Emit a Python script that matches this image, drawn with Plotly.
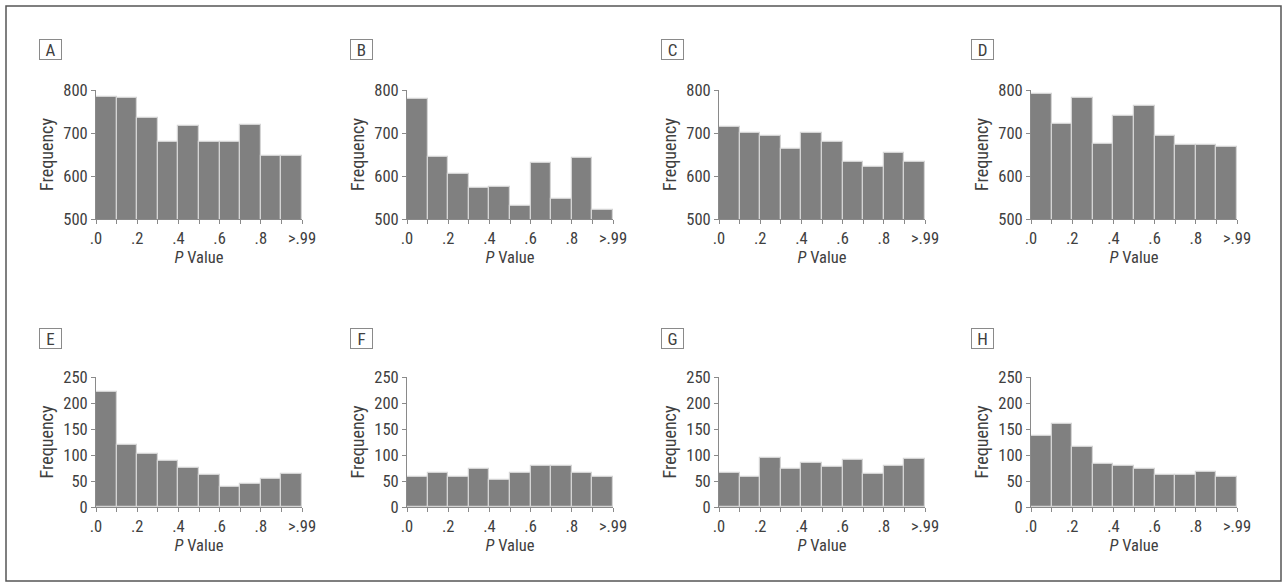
import plotly.graph_objects as go

W, H = 1286, 583

bin_centers = [0.05, 0.15, 0.25, 0.35, 0.45, 0.55, 0.65, 0.75, 0.85, 0.95]
tick_vals = [0.0, 0.1, 0.2, 0.3, 0.4, 0.5, 0.6, 0.7, 0.8, 0.9, 1.0]
tick_text = [".0", "", ".2", "", ".4", "", ".6", "", ".8", "", ">.99"]

panel_labels = ["A", "B", "C", "D", "E", "F", "G", "H"]

freq_A = [783, 781, 736, 678, 717, 679, 678, 719, 647, 647]
freq_B = [778, 644, 604, 573, 575, 531, 631, 546, 641, 522]
freq_C = [715, 700, 694, 662, 700, 678, 633, 620, 654, 633]
freq_D = [790, 721, 782, 675, 740, 763, 694, 671, 673, 668]
freq_E = [222, 120, 102, 89, 75, 61, 39, 44, 53, 64]
freq_F = [57, 65, 57, 73, 52, 65, 79, 79, 65, 57]
freq_G = [66, 58, 94, 73, 85, 77, 90, 64, 79, 93]
freq_H = [136, 160, 115, 82, 79, 73, 62, 62, 68, 58]

top_yticks = [500, 600, 700, 800]
bottom_yticks = [0, 50, 100, 150, 200, 250]

series = [freq_A, freq_B, freq_C, freq_D, freq_E, freq_F, freq_G, freq_H]

FONT = "Liberation Sans Narrow, Arial Narrow, Roboto Condensed, DejaVu Sans Condensed, sans-serif"
TXT = "#404040"
AX = "#8a8a8a"

# pixel layout
col_x = [(96, 302), (407, 613), (719, 925), (1031, 1237)]
row_y = [(90, 219), (377, 507)]
label_box_x = [50, 361, 672, 982]
label_box_y = [50, 338]

fig = go.Figure()
layout_axes = {}
annotations = []
for i, vals in enumerate(series):
    r, c = divmod(i, 4)
    n = i + 1
    xa = "x" if n == 1 else f"x{n}"
    ya = "y" if n == 1 else f"y{n}"
    fig.add_trace(go.Bar(
        x=bin_centers, y=vals, width=0.1,
        marker=dict(color="#808080", line=dict(color="#d4d4d4", width=1.2)),
        xaxis=xa, yaxis=ya, showlegend=False, hoverinfo="x+y",
    ))
    x0, x1 = col_x[c]
    y0, y1 = row_y[r]
    top = r == 0
    yt = top_yticks if top else bottom_yticks
    base = dict(showline=True, linecolor=AX, linewidth=1, ticks="outside",
                ticklen=4, tickcolor=AX, showgrid=False, zeroline=False,
                automargin=False,
                tickfont=dict(family=FONT, size=16.5, color=TXT), fixedrange=True)
    layout_axes[("xaxis" if n == 1 else f"xaxis{n}")] = dict(
        base, domain=[x0 / W, x1 / W], range=[0, 1], anchor=ya,
        tickmode="array", tickvals=tick_vals, ticktext=tick_text,
        title=dict(text="<i>P</i> Value", standoff=0,
                   font=dict(family=FONT, size=16.5, color=TXT)),
    )
    layout_axes[("yaxis" if n == 1 else f"yaxis{n}")] = dict(
        base, domain=[1 - y1 / H, 1 - y0 / H], range=[yt[0], yt[-1]], anchor=xa,
        tickmode="array", tickvals=yt,
        title=dict(text="Frequency", standoff=4,
                   font=dict(family=FONT, size=18, color=TXT)),
    )
    annotations.append(dict(
        text=panel_labels[i], xref="paper", yref="paper",
        x=label_box_x[c] / W, y=1 - label_box_y[r] / H,
        xanchor="center", yanchor="middle", showarrow=False,
        font=dict(family=FONT, size=17, color=TXT),
        bordercolor="#8a8a8a", borderwidth=1, borderpad=1,
        width=19, height=17,
    ))

fig.update_layout(
    width=W, height=H,
    margin=dict(l=0, r=0, t=0, b=0, autoexpand=False),
    paper_bgcolor="white", plot_bgcolor="white",
    bargap=0,
    annotations=annotations,
    shapes=[dict(type="rect", xref="paper", yref="paper",
                 x0=6 / W, x1=1281 / W, y0=1 - 581 / H, y1=1 - 6 / H,
                 line=dict(color="#555555", width=1.5))],
    **layout_axes,
)

fig.write_html(
    "out.html",
    config={"displayModeBar": False},
    post_script="document.body.style.margin='0';document.body.style.overflow='hidden';",
)
